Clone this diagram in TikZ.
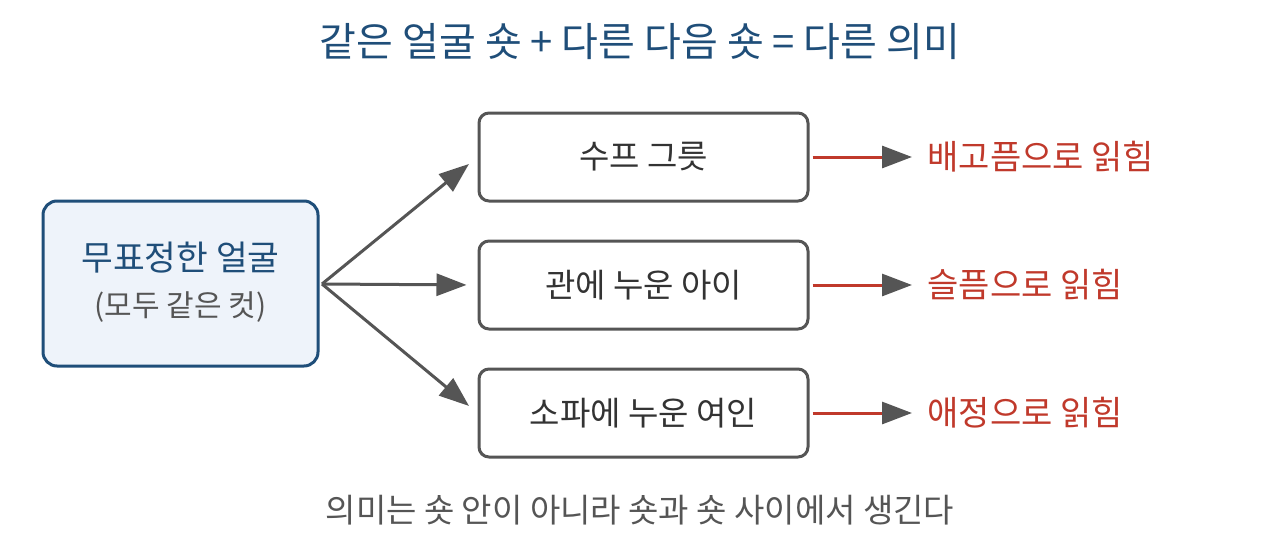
\documentclass[tikz,border=0pt]{standalone}
\usepackage{fontspec}
\setmainfont{Noto Sans CJK KR}
\usetikzlibrary{arrows.meta}
\definecolor{navy}{HTML}{1F4E79}
\definecolor{facefill}{HTML}{EEF3FA}
\definecolor{ink}{HTML}{555555}
\definecolor{boxtext}{HTML}{333333}
\definecolor{readred}{HTML}{C0392B}
\tikzset{
  facebox/.style={draw=navy, fill=facefill, line width=3pt, rounded corners=14pt,
    minimum width=275pt, minimum height=165pt, align=center},
  shotbox/.style={draw=ink, fill=white, line width=3pt, rounded corners=10pt,
    minimum width=329pt, minimum height=88pt, text=boxtext, font=\fontsize{33}{38}\selectfont},
  cut/.style={draw=ink, line width=3pt, -{Triangle[length=30pt,width=22pt]}},
  reading/.style={draw=readred, line width=3pt, -{Triangle[length=30pt,width=22pt,color=ink]}},
  readlabel/.style={anchor=west, text=readred, font=\fontsize{34}{38}\selectfont},
}
\begin{document}
\begin{tikzpicture}[x=1pt,y=-1pt]
  \useasboundingbox (0,0) rectangle (1280,549);
  % title
  \node[text=navy, font=\fontsize{40}{44}\selectfont] (title) at (640,42) {같은 얼굴 숏 + 다른 다음 숏 = 다른 의미};
  % the face shot
  \node[facebox] (face) at (180.5,283.5) {};
  \node[text=navy, font=\fontsize{34.5}{38}\selectfont] (facename) at (180.5,258) {무표정한 얼굴};
  \node[text=ink, font=\fontsize{30}{34}\selectfont] (facenote) at (180.5,307) {(모두 같은 컷)};
  \coordinate (fan) at (322,284);
  % following shots
  \node[shotbox] (soup) at (643.5,157) {수프 그릇};
  \node[shotbox] (coffin) at (643.5,285) {관에 누운 아이};
  \node[shotbox] (sofa) at (643.5,413) {소파에 누운 여인};
  \draw[cut, shorten >=11pt] (fan) -- (soup.west);
  \draw[cut, shorten >=11pt] (fan) -- (coffin.west);
  \draw[cut, shorten >=11pt] (fan) -- (sofa.west);
  % readings
  \node[readlabel] (hunger) at (924,157) {배고픔으로 읽힘};
  \node[readlabel] (grief) at (924,285) {슬픔으로 읽힘};
  \node[readlabel] (love) at (924,413) {애정으로 읽힘};
  \draw[reading, shorten <=3pt, shorten >=12pt] (soup.east) -- (hunger.west);
  \draw[reading, shorten <=3pt, shorten >=12pt] (coffin.east) -- (grief.west);
  \draw[reading, shorten <=3pt, shorten >=12pt] (sofa.east) -- (love.west);
  % caption
  \node[text=ink, font=\fontsize{33}{38}\selectfont] (caption) at (640,510) {의미는 숏 안이 아니라 숏과 숏 사이에서 생긴다};
\end{tikzpicture}
\end{document}
